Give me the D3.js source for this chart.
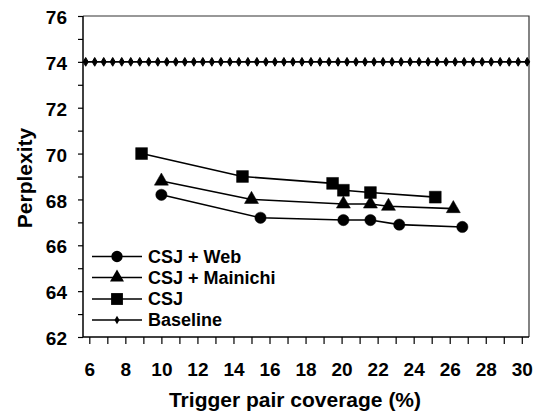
<!DOCTYPE html>
<html>
<head>
<meta charset="utf-8">
<script src="https://cdn.jsdelivr.net/npm/d3@7"></script>
<style>
  body { margin: 0; background: #fff; }
  text { font-family: Arial, "Liberation Sans", sans-serif; font-weight: bold; fill: #000; }
</style>
</head>
<body>
<div id="chart"></div>
<script>
// coverage (%) and perplexity for each run
let webX = [10.0, 15.5, 20.1, 21.6, 23.2, 26.7];
let webY = [68.2, 67.2, 67.1, 67.1, 66.9, 66.8];
let mainichiX = [10.0, 15.0, 20.1, 21.6, 22.6, 26.2];
let mainichiY = [68.8, 68.0, 67.8, 67.8, 67.7, 67.6];
let csjX = [8.9, 14.5, 19.5, 20.1, 21.6, 25.2];
let csjY = [70.0, 69.0, 68.7, 68.4, 68.3, 68.1];
let baselineX = [5.8, 6.3, 6.8, 7.3, 7.8, 8.3, 8.8, 9.3, 9.8, 10.3, 10.8, 11.3, 11.8, 12.3, 12.8,
                 13.3, 13.8, 14.3, 14.8, 15.3, 15.8, 16.3, 16.8, 17.3, 17.8, 18.3, 18.8, 19.3, 19.8,
                 20.3, 20.8, 21.3, 21.8, 22.3, 22.8, 23.3, 23.8, 24.3, 24.8, 25.3, 25.8, 26.3, 26.8,
                 27.3, 27.8, 28.3, 28.8, 29.3, 29.8, 30.3];
let baselineValue = 74;

let xTickLabels = [6, 8, 10, 12, 14, 16, 18, 20, 22, 24, 26, 28, 30];
let yTickLabels = [62, 64, 66, 68, 70, 72, 74, 76];
let legendNames = ['CSJ + Web', 'CSJ + Mainichi', 'CSJ', 'Baseline'];

let buildChart = () =>
{
	let width = 541;
	let height = 413;

	let svg = d3.select('#chart')
	  .append('svg')
	  .attr('width', width)
	  .attr('height', height)
	  .style('background-color', '#fff');

	let x = d3.scaleLinear().domain([5.65, 30.4]).range([83, 529]);
	let y = d3.scaleLinear().domain([62, 76]).range([337, 16]);

	// frame top / right
	svg.append('path')
	   .attr('d', `M${x.range()[0]},${y(76)}H${x.range()[1]}V${y(62)}`)
	   .attr('fill', 'none')
	   .attr('stroke', '#333')
	   .attr('stroke-width', 1.2);

	// axes: ticks every unit, labels every 2
	let xAxis = d3.axisBottom(x)
	              .tickValues(d3.range(6, 31, 1))
	              .tickSize(7)
	              .tickFormat(d => xTickLabels.includes(d) ? d : '');

	let yAxis = d3.axisLeft(y)
	              .tickValues(d3.range(62, 77, 1))
	              .tickSize(5)
	              .tickFormat(d => yTickLabels.includes(d) ? d : '');

	let gx = svg.append('g')
	   .attr('transform', `translate(0,${y(62)})`)
	   .call(xAxis);
	gx.select('.domain').attr('stroke-width', 1.5).attr('d', `M${x.range()[0]},0H${x.range()[1]}`);
	gx.selectAll('line').attr('stroke-width', 1.2);
	gx.selectAll('text')
	  .attr('y', 39)
	  .attr('dy', 0)
	  .style('font-size', '19px');

	let gy = svg.append('g')
	   .attr('transform', `translate(${x.range()[0]},0)`)
	   .call(yAxis);
	gy.select('.domain').attr('stroke-width', 1.5).attr('d', `M0,${y(62)}V${y(76)}`);
	gy.selectAll('line').attr('stroke-width', 1.2);
	gy.selectAll('text')
	  .attr('x', -16)
	  .attr('dy', '0.4em')
	  .style('font-size', '19px');

	svg.append('text')
	   .attr('x', 295)
	   .attr('y', 407)
	   .attr('text-anchor', 'middle')
	   .style('font-size', '21px')
	   .text('Trigger pair coverage (%)');

	svg.append('text')
	   .attr('transform', 'translate(32,178) rotate(-90)')
	   .attr('text-anchor', 'middle')
	   .style('font-size', '21px')
	   .text('Perplexity');

	let line = d3.line().x(d => x(d[0])).y(d => y(d[1]));

	let series = [
		{ name: legendNames[0], pts: d3.zip(webX, webY), mark: 'circle' },
		{ name: legendNames[1], pts: d3.zip(mainichiX, mainichiY), mark: 'triangle' },
		{ name: legendNames[2], pts: d3.zip(csjX, csjY), mark: 'square' },
		{ name: legendNames[3], pts: baselineX.map(v => [v, baselineValue]), mark: 'diamond' }
	];

	let symbolFor = {
		circle: d3.symbol().type(d3.symbolCircle).size(100),
		triangle: d3.symbol().type(d3.symbolTriangle).size(85),
		square: d3.symbol().type(d3.symbolSquare).size(140),
		diamond: d3.symbol().type(d3.symbolDiamond).size(22)
	};

	series.forEach(s => {
		svg.append('path')
		   .attr('d', line(s.pts))
		   .attr('fill', 'none')
		   .attr('stroke', '#000')
		   .attr('stroke-width', 1.6);

		svg.selectAll(null)
		   .data(s.pts)
		   .enter()
		   .append('path')
		   .attr('d', symbolFor[s.mark]())
		   .attr('transform', d => `translate(${x(d[0])},${y(d[1])})`)
		   .attr('fill', '#000')
		   .attr('stroke', '#000')
		   .attr('stroke-width', s.mark == 'diamond' ? 1 : 0.5);
	});

	// legend
	let legendY = [256.5, 277.5, 299, 320];
	let legend = svg.append('g');

	series.forEach((s, i) => {
		legend.append('line')
		      .attr('x1', 92).attr('x2', 142)
		      .attr('y1', legendY[i]).attr('y2', legendY[i])
		      .attr('stroke', '#000')
		      .attr('stroke-width', 1.6);
		legend.append('path')
		      .attr('d', symbolFor[s.mark]())
		      .attr('transform', `translate(117,${legendY[i]})`)
		      .attr('fill', '#000');
		legend.append('text')
		      .attr('x', 148)
		      .attr('y', legendY[i])
		      .attr('dy', '0.36em')
		      .style('font-size', '18px')
		      .text(s.name);
	});
}

buildChart();
</script>
</body>
</html>
